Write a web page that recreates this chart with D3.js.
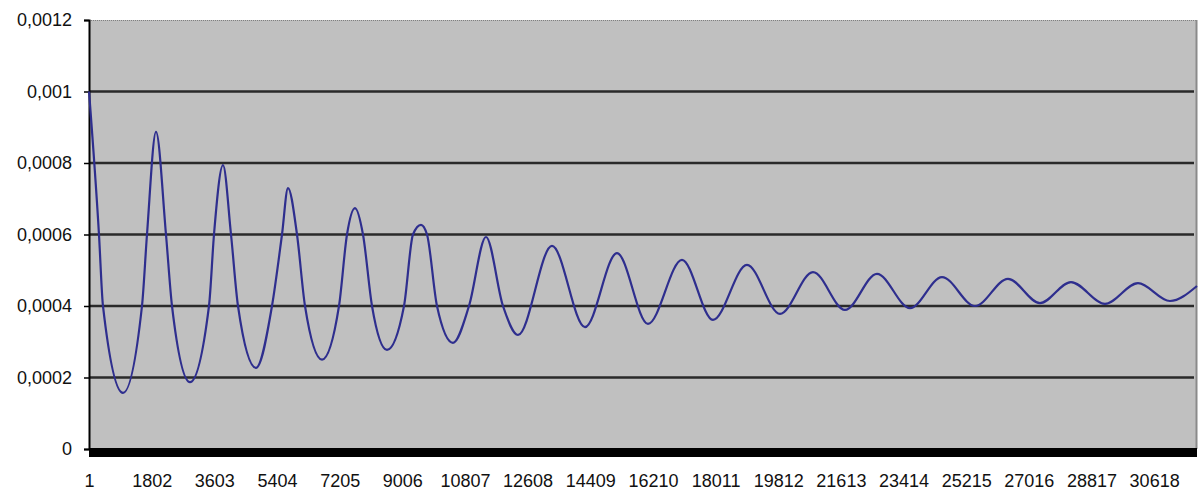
<!DOCTYPE html>
<html>
<head>
<meta charset="utf-8">
<script src="https://cdn.jsdelivr.net/npm/d3@7/dist/d3.min.js"></script>
<style>
  html, body { margin: 0; padding: 0; background: #ffffff; }
  svg { display: block; }
  text { font-family: "Liberation Sans", Arial, sans-serif; }
</style>
</head>
<body>
<svg id="chart" width="1199" height="491"></svg>
<script>
// ---- data ----
const sampleIndex = [
  1, 287, 402, 977, 1523, 1667, 1926, 2213, 2386, 2903,
  3449, 3593, 3852, 4082, 4283, 4800, 5260, 5548, 5720, 5979, 6209, 6698, 7186,
  7416, 7646, 7876, 8135, 8566, 9055, 9313, 9543, 9716, 10003, 10463, 10923,
  11412, 11900, 12332, 13309, 14258, 15177, 16068, 17046, 17937, 18914, 19863,
  20811, 21731, 22651, 23600, 24520, 25468, 26416, 27336, 28227, 29205, 30154,
  31073, 31850
];
const seriesValue = [
  0.00100, 0.00060, 0.00040, 0.000157, 0.00040, 0.00060, 0.000887,
  0.00060, 0.00040, 0.000187, 0.00040, 0.00060, 0.000794, 0.00060,
  0.00040, 0.000227, 0.00040, 0.00060, 0.00073, 0.00060, 0.00040, 0.00025, 0.00040,
  0.00060, 0.000674, 0.00060, 0.00040, 0.000277, 0.00040, 0.00060, 0.000627, 0.00060,
  0.00040, 0.000297, 0.00040, 0.000593, 0.00040, 0.000319, 0.000568, 0.000341,
  0.000548, 0.00035, 0.000529, 0.000361, 0.000515, 0.000378, 0.000495, 0.000389,
  0.00049, 0.000394, 0.000481, 0.0004, 0.000476, 0.000408, 0.000467, 0.000406,
  0.000464, 0.000414, 0.000456
];
const xTickLabels = [1, 1802, 3603, 5404, 7205, 9006, 10807, 12608, 14409, 16210,
  18011, 19812, 21613, 23414, 25215, 27016, 28817, 30618];
const yTickValues = [0, 0.0002, 0.0004, 0.0006, 0.0008, 0.001, 0.0012];
const yTickLabels = ["0", "0,0002", "0,0004", "0,0006", "0,0008", "0,001", "0,0012"];

(function () {
  // ---- layout ----
  const pL = 89, pR = 1197, pT = 20, pB = 449;
  const svg = d3.select("#chart");

  const x = d3.scaleLinear().domain([0, 31850]).range([pL, pR]);
  const y = d3.scaleLinear().domain([0, 0.0012]).range([pB, pT]);

  // plot area
  svg.append("rect")
    .attr("x", pL).attr("y", pT)
    .attr("width", pR - pL).attr("height", pB - pT)
    .attr("fill", "#c0c0c0");

  // top dotted border & right border
  svg.append("line")
    .attr("x1", pL).attr("x2", pR).attr("y1", pT + 0.5).attr("y2", pT + 0.5)
    .attr("stroke", "#808080").attr("stroke-width", 1).attr("stroke-dasharray", "1,1");
  svg.append("line")
    .attr("x1", pR - 0.5).attr("x2", pR - 0.5).attr("y1", pT).attr("y2", pB)
    .attr("stroke", "#8a8a8a").attr("stroke-width", 2);

  // gridlines
  svg.append("g")
    .selectAll("line")
    .data(yTickValues.filter(v => v > 0 && v < 0.0012))
    .join("line")
    .attr("x1", pL).attr("x2", pR - 3)
    .attr("y1", d => y(d)).attr("y2", d => y(d))
    .attr("stroke", "#2a2a2a").attr("stroke-width", 2.5);

  // y axis
  const yAxis = d3.axisLeft(y)
    .tickValues(yTickValues)
    .tickSize(5)
    .tickPadding(12)
    .tickFormat((d, i) => yTickLabels[i]);
  const gy = svg.append("g").attr("transform", `translate(${pL},0)`).call(yAxis);
  gy.select(".domain").attr("stroke", "#000").attr("stroke-width", 2);
  gy.selectAll(".tick line").attr("stroke", "#000").attr("stroke-width", 1.5);
  gy.selectAll(".tick text")
    .attr("font-size", "18px").attr("fill", "#111")
    .attr("font-family", "'Liberation Sans', Arial, sans-serif");

  // thick black x axis band
  svg.append("rect")
    .attr("x", pL).attr("y", y(0) - 1)
    .attr("width", pR - pL).attr("height", 9)
    .attr("fill", "#000");

  // x axis labels
  const xAxis = d3.axisBottom(x)
    .tickValues(xTickLabels)
    .tickSize(0)
    .tickPadding(25)
    .tickFormat(d => String(d));
  const gx = svg.append("g").attr("transform", `translate(0,${pB})`).call(xAxis);
  gx.select(".domain").remove();
  gx.selectAll(".tick text")
    .attr("font-size", "18px").attr("fill", "#111")
    .attr("font-family", "'Liberation Sans', Arial, sans-serif");

  // series line
  const pts = sampleIndex.map((s, i) => [s, seriesValue[i]]);
  const line = d3.line()
    .x(d => x(d[0]))
    .y(d => y(d[1]))
    .curve(d3.curveMonotoneX);
  svg.append("path")
    .datum(pts)
    .attr("d", line)
    .attr("fill", "none")
    .attr("stroke", "#2e2e8e")
    .attr("stroke-width", 2.2)
    .attr("stroke-linejoin", "round");
})();
</script>
</body>
</html>
